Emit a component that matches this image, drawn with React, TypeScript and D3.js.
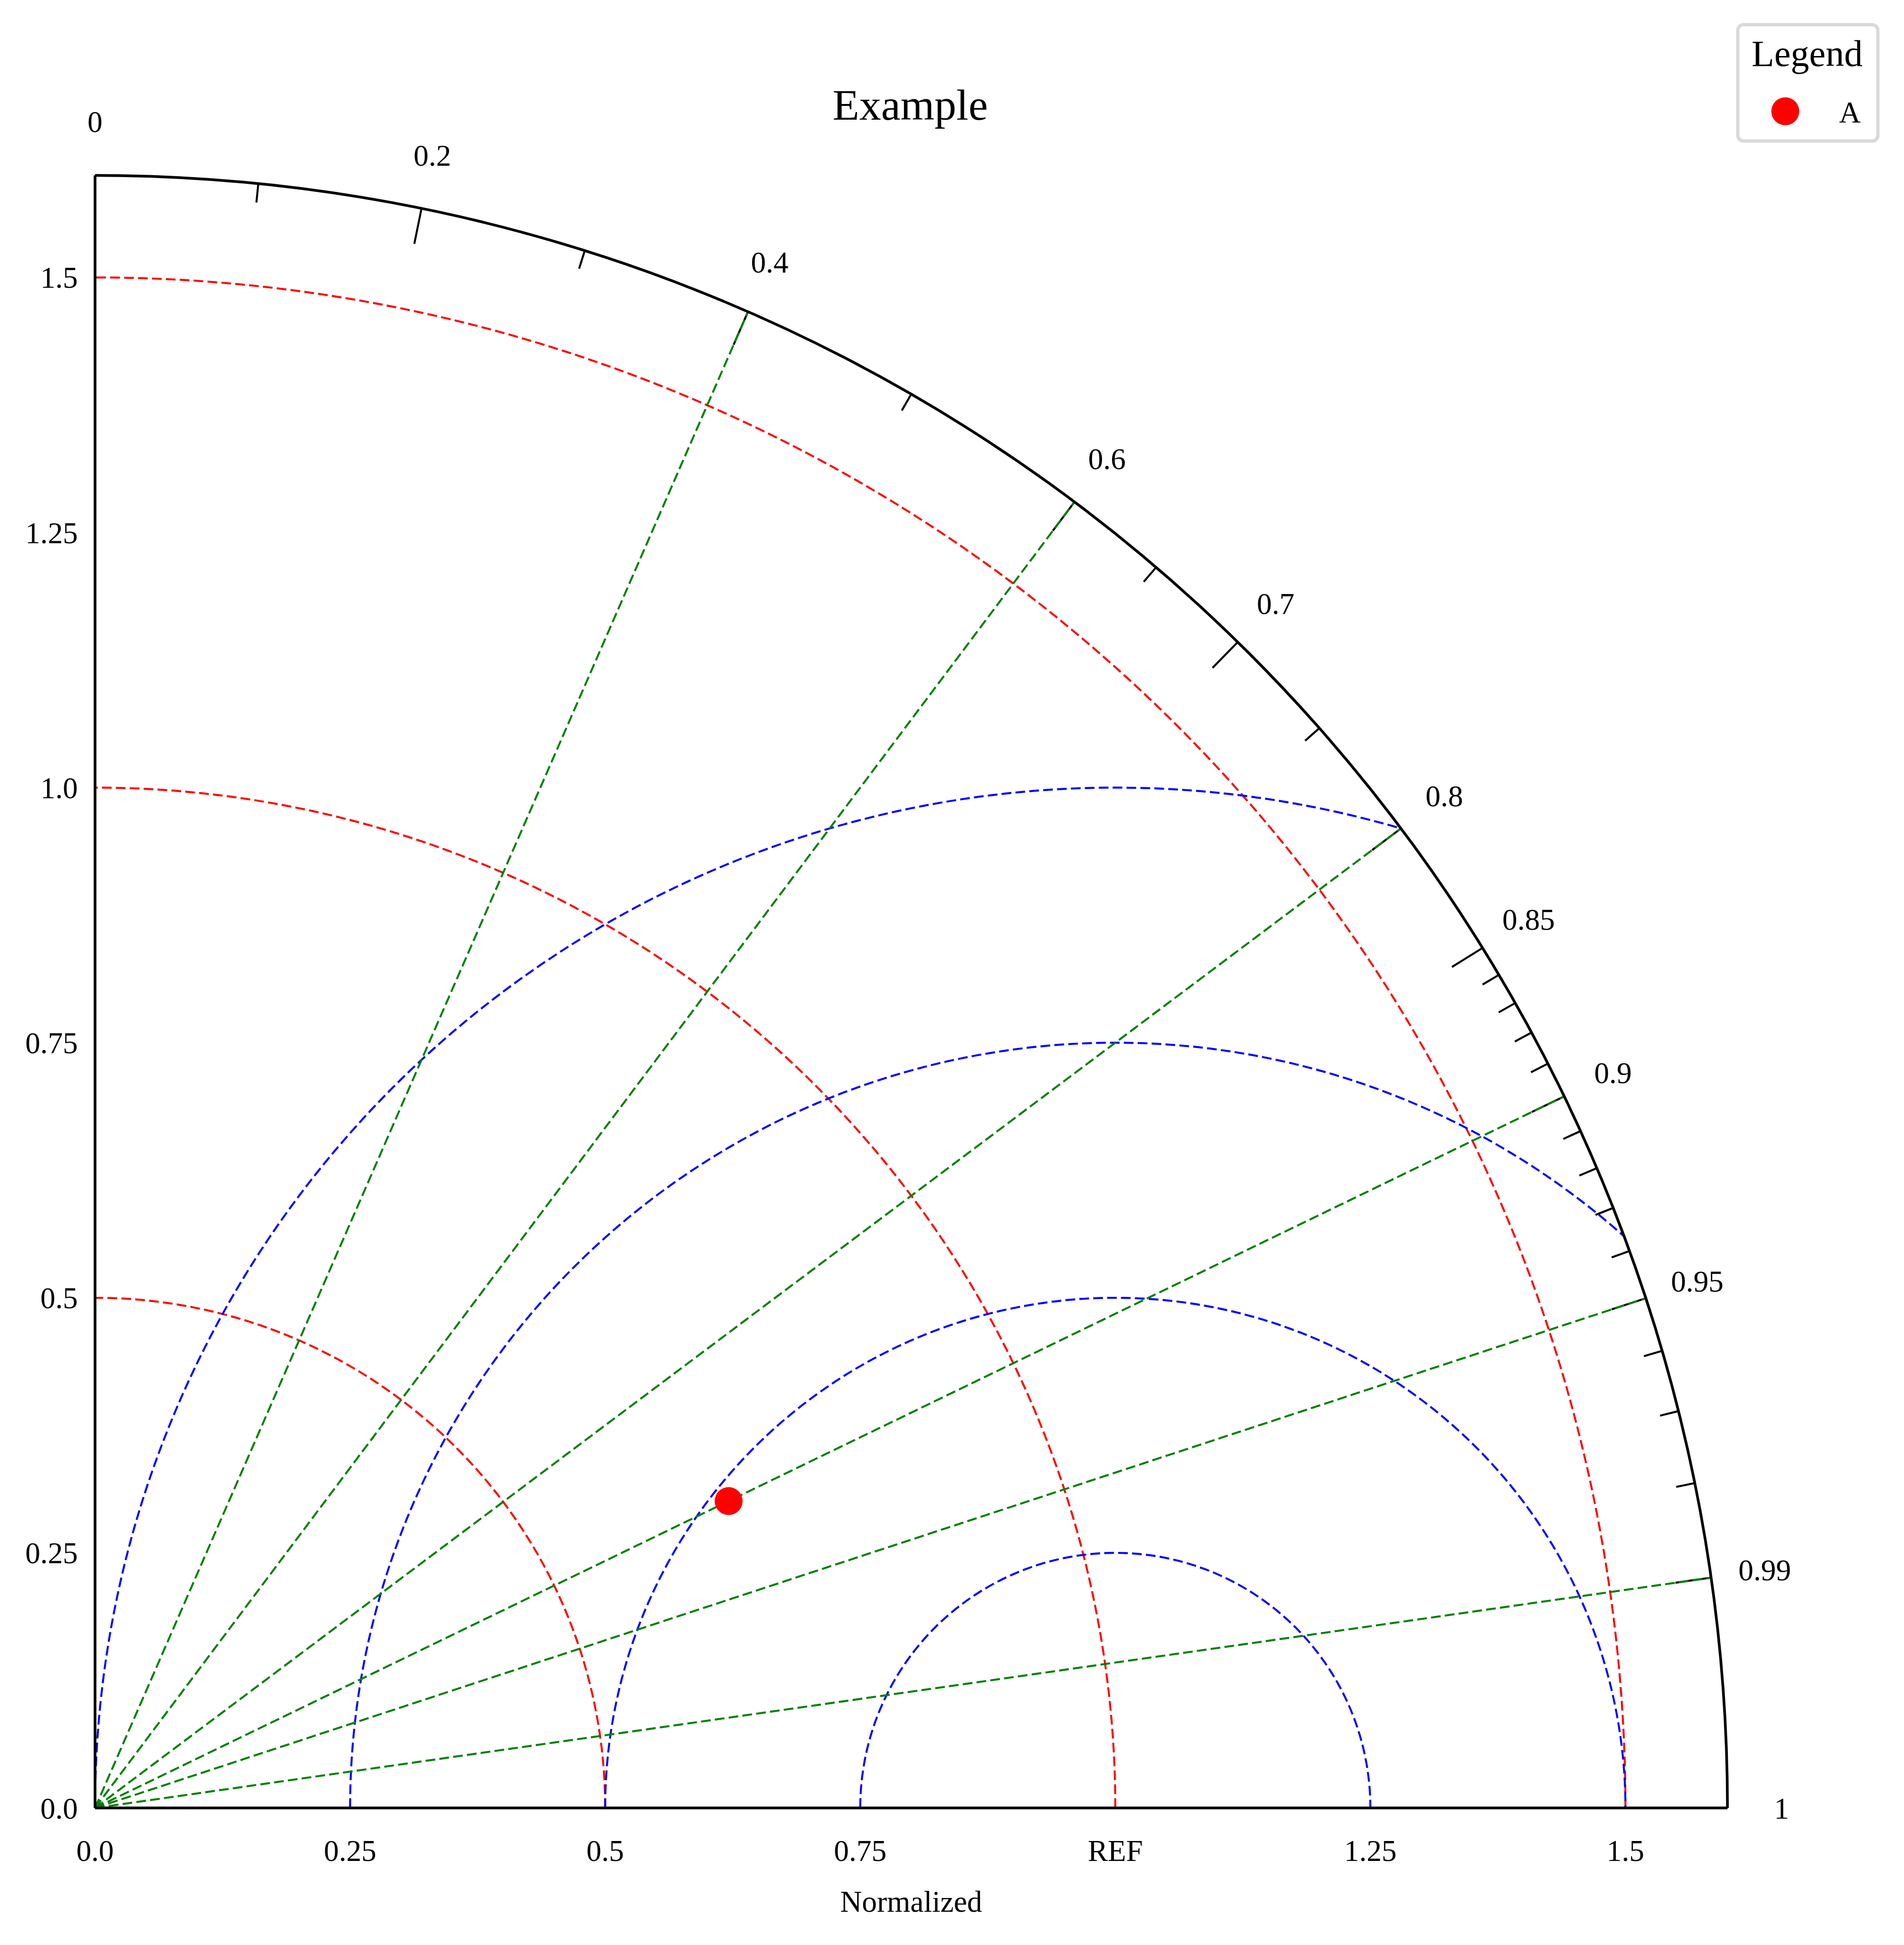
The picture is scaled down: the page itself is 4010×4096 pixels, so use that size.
import React from 'react';
import * as d3 from 'd3';

// taylor diagram values
const refStd = 1.0;
const maxStd = 1.6;
const stdLevels = [0.5, 1.0, 1.5];
const rmsLevels = [0.25, 0.5, 0.75, 1.0];
const corrLines = [0.4, 0.6, 0.8, 0.9, 0.95, 0.99];
const corrMajor = [0, 0.2, 0.4, 0.6, 0.7, 0.8, 0.85, 0.9, 0.95, 0.99, 1];
const corrMajorLabels = ['0', '0.2', '0.4', '0.6', '0.7', '0.8', '0.85', '0.9', '0.95', '0.99', '1'];
const corrMinor = [0.1, 0.3, 0.5, 0.65, 0.75, 0.86, 0.87, 0.88, 0.89, 0.91, 0.92, 0.93, 0.94, 0.96, 0.97, 0.98];
const stdTicks = [0, 0.25, 0.5, 0.75, 1.0, 1.25, 1.5];
const yTickLabels = ['0.0', '0.25', '0.5', '0.75', '1.0', '1.25', '1.5'];
const xTickLabels = ['0.0', '0.25', '0.5', '0.75', 'REF', '1.25', '1.5'];
const seriesNames = ['A'];
const seriesStd = [0.69];
const seriesCorr = [0.9];
const seriesColors = ['#ff0000'];

const W = 4010;
const H = 4096;
const ox = 200.2;
const oy = 3807.4;
const R = 3438;
const font = '"Liberation Serif", "Times New Roman", serif';
const dash = '20.5 8.8';

export default function App() {
  const r = d3.scaleLinear().domain([0, maxStd]).range([0, R]);
  const px = (x: number) => ox + r(x);
  const py = (y: number) => oy - r(y);
  const polar = (s: number, c: number) => [px(s * c), py(s * Math.sqrt(Math.max(0, 1 - c * c)))];

  const quarter = d3.path();
  quarter.moveTo(ox, oy);
  quarter.lineTo(ox + R, oy);
  quarter.arc(ox, oy, R, 0, -Math.PI / 2, true);
  quarter.closePath();

  const outline = d3.path();
  outline.moveTo(ox + R, oy);
  outline.arc(ox, oy, R, 0, -Math.PI / 2, true);

  const stdArc = (s: number) => {
    const p = d3.path();
    p.moveTo(px(s), oy);
    p.arc(ox, oy, r(s), 0, -Math.PI / 2, true);
    return p.toString();
  };

  const rmsArc = (d: number) => {
    const p = d3.path();
    p.moveTo(px(refStd - d), oy);
    p.arc(px(refStd), oy, r(d), Math.PI, 0, false);
    return p.toString();
  };

  const tick = (c: number, len: number) => {
    const [x1, y1] = polar(maxStd, c);
    const s2 = maxStd - r.invert(len);
    const [x2, y2] = polar(s2, c);
    return { x1, y1, x2, y2 };
  };

  const labelR = r.invert(R + 114);

  return (
    <svg width={W} height={H} style={{ position: 'absolute', left: 0, top: 0, background: '#fff' }}>
      <defs>
        <clipPath id="quarter">
          <path d={quarter.toString()} />
        </clipPath>
      </defs>
      <rect width={W} height={H} fill="#fff" />

      {/* std circles */}
      {stdLevels.map((s) => (
        <path key={'s' + s} d={stdArc(s)} fill="none" stroke="#ff0000" strokeWidth={4.2} strokeDasharray={dash} />
      ))}

      {/* rms circles */}
      <g clipPath="url(#quarter)">
        {rmsLevels.map((d) => (
          <path key={'r' + d} d={rmsArc(d)} fill="none" stroke="#0000ff" strokeWidth={4.2} strokeDasharray={dash} />
        ))}
      </g>

      {/* ticks on arc */}
      {corrMajor.map((c) => {
        const t = tick(c, 76);
        return <line key={'M' + c} {...t} stroke="#000" strokeWidth={4.2} />;
      })}
      {corrMinor.map((c) => {
        const t = tick(c, 40);
        return <line key={'m' + c} {...t} stroke="#000" strokeWidth={4.2} />;
      })}

      {/* correlation lines */}
      {corrLines.map((c) => {
        const [x2, y2] = polar(maxStd, c);
        return <line key={'c' + c} x1={ox} y1={oy} x2={x2} y2={y2} stroke="#008000" strokeWidth={4.2} strokeDasharray={dash} />;
      })}

      {/* frame */}
      <path d={outline.toString()} fill="none" stroke="#000" strokeWidth={5.7} />
      <line x1={ox} y1={oy} x2={ox + R} y2={oy} stroke="#000" strokeWidth={5.7} />
      <line x1={ox} y1={oy} x2={ox} y2={oy - R} stroke="#000" strokeWidth={5.7} />

      {/* correlation labels */}
      {corrMajor.map((c, i) => {
        const [x, y] = polar(labelR, c);
        return (
          <text key={'cl' + c} x={x} y={y} dy="0.35em" textAnchor="middle" fontFamily={font} fontSize={63.3}>
            {corrMajorLabels[i]}
          </text>
        );
      })}

      {/* std axis labels */}
      {stdTicks.map((s, i) => (
        <text key={'y' + s} x={164} y={py(s)} dy="0.35em" textAnchor="end" fontFamily={font} fontSize={63.3}>
          {yTickLabels[i]}
        </text>
      ))}
      {stdTicks.map((s, i) => (
        <text key={'x' + s} x={px(s)} y={3919} textAnchor="middle" fontFamily={font} fontSize={63.3}>
          {xTickLabels[i]}
        </text>
      ))}
      <text x={1919} y={4025.7} textAnchor="middle" fontFamily={font} fontSize={63.3}>Normalized</text>

      <text x={1917} y={251.5} textAnchor="middle" fontFamily={font} fontSize={92}>Example</text>

      {/* points */}
      {seriesNames.map((n, i) => {
        const [x, y] = polar(seriesStd[i], seriesCorr[i]);
        return <circle key={n} cx={x} cy={y} r={29.4} fill={seriesColors[i]} />;
      })}

      {/* legend */}
      <rect x={3660} y={52} width={295} height={245} rx={12} fill="#fff" stroke="#d9d9d9" strokeWidth={7} />
      <text x={3806} y={138.6} textAnchor="middle" fontFamily={font} fontSize={78}>Legend</text>
      {seriesNames.map((n, i) => (
        <g key={'lg' + n}>
          <circle cx={3760} cy={234.4 + i * 80} r={29.4} fill={seriesColors[i]} />
          <text x={3896} y={258 + i * 80} textAnchor="middle" fontFamily={font} fontSize={63.3}>{n}</text>
        </g>
      ))}
    </svg>
  );
}
